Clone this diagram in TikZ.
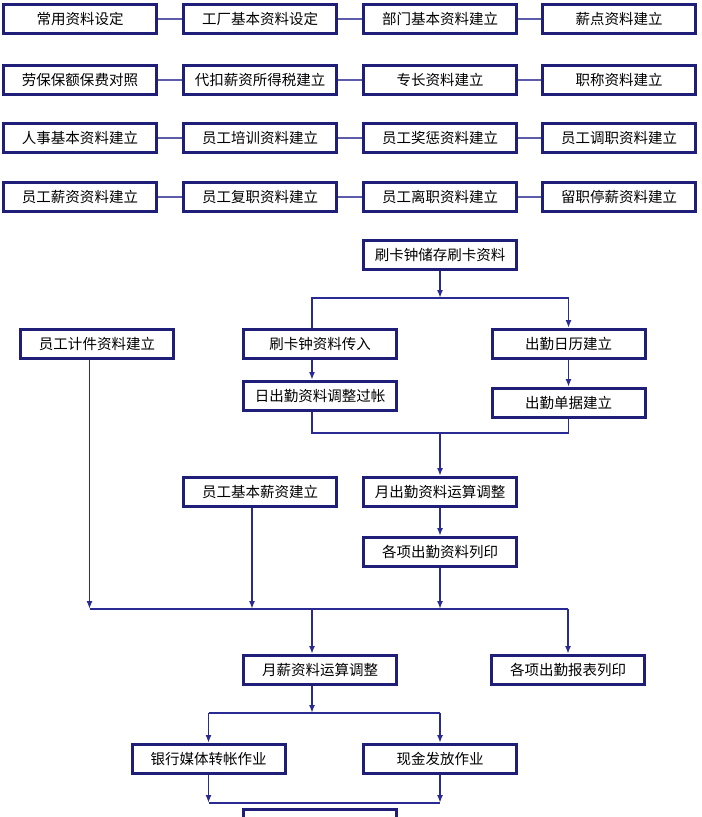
\documentclass[tikz,border=0pt]{standalone}
\usepackage{fontspec}
\newfontfamily\cjk{Noto Sans CJK SC}
\usetikzlibrary{arrows.meta}
\definecolor{boxblue}{HTML}{1F1F7A}
\definecolor{lineblue}{HTML}{2A2A95}
\definecolor{gridblue}{HTML}{5C5CA8}
\tikzset{
  box/.style={shape=rectangle,draw=boxblue,line width=3bp,
    minimum width=153bp,minimum height=29bp,inner sep=0pt,
    font=\cjk\fontsize{14.5bp}{14.5bp}\selectfont},
  link/.style={draw=lineblue,line width=1.6bp},
  >={Latex[length=8bp,width=6bp]}
}
\begin{document}
\begin{tikzpicture}[x=1bp,y=-1bp]
    \useasboundingbox (0,0) rectangle (702,817);
    % basic data
    \node[box] (A1) at (80,19) {常用资料设定};
    \node[box] (A2) at (260,19) {工厂基本资料设定};
    \node[box] (A3) at (440,19) {部门基本资料建立};
    \node[box] (A4) at (619,19) {薪点资料建立};
    \node[box] (B1) at (80,80) {劳保保额保费对照};
    \node[box] (B2) at (260,80) {代扣薪资所得税建立};
    \node[box] (B3) at (440,80) {专长资料建立};
    \node[box] (B4) at (619,80) {职称资料建立};
    \node[box] (C1) at (80,138) {人事基本资料建立};
    \node[box] (C2) at (260,138) {员工培训资料建立};
    \node[box] (C3) at (440,138) {员工奖惩资料建立};
    \node[box] (C4) at (619,138) {员工调职资料建立};
    \node[box] (D1) at (80,197) {员工薪资资料建立};
    \node[box] (D2) at (260,197) {员工复职资料建立};
    \node[box] (D3) at (440,197) {员工离职资料建立};
    \node[box] (D4) at (619,197) {留职停薪资料建立};
\begin{scope}[
              every edge/.style={draw=gridblue,line width=1.8bp}]
    \path (A1) edge (A2) (A2) edge (A3) (A3) edge (A4);
    \path (B1) edge (B2) (B2) edge (B3) (B3) edge (B4);
    \path (C1) edge (C2) (C2) edge (C3) (C3) edge (C4);
    \path (D1) edge (D2) (D2) edge (D3) (D3) edge (D4);
\end{scope}

    % attendance
    \node[box] (E) at (440,255) {刷卡钟储存刷卡资料};
    \node[box] (F) at (97,344) {员工计件资料建立};
    \node[box] (G) at (320,344) {刷卡钟资料传入};
    \node[box] (H) at (568.5,344) {出勤日历建立};
    \node[box] (I) at (320,396) {日出勤资料调整过帐};
    \node[box] (J) at (568.5,403) {出勤单据建立};
    \node[box] (K) at (260,492) {员工基本薪资建立};
    \node[box] (L) at (440,492) {月出勤资料运算调整};
    \node[box] (M) at (440,552) {各项出勤资料列印};
    % payroll
    \node[box] (N) at (320,670) {月薪资料运算调整};
    \node[box] (O) at (568,670) {各项出勤报表列印};
    \node[box] (P) at (208.5,759) {银行媒体转帐作业};
    \node[box] (Q) at (440,759) {现金发放作业};

    \coordinate (s1) at (440,298);
    \coordinate (s2) at (440,433);
    \coordinate (s3) at (440,609);
    \coordinate (s4) at (312,713);
    \coordinate (s5) at (324,803);
    \coordinate (g) at ([xshift=-8bp]G.south);
    \coordinate (i) at ([xshift=-8bp]I.south);
    \coordinate (f) at ([xshift=-7.5bp]F.south);
    \coordinate (k) at ([xshift=-8bp]K.south);

\begin{scope}[
              every edge/.style={link}]
    \path [->] (E) edge (s1);
    \path [->] (g) edge (g |- I.north);
    \path [->] (H) edge (J);
    \path [->] (s2) edge (L);
    \path [->] (L) edge (M);
    \path [->] (f) edge (f |- s3);
    \path [->] (k) edge (k |- s3);
    \path [->] (M) edge (s3);
    \path [->] (s4 |- s3) edge (s4 |- N.north);
    \path [->] (O.north |- s3) edge (O);
    \path [->] (s4 |- N.south) edge (s4);
    \path [->] (P.north |- s4) edge (P);
    \path [->] (Q.north |- s4) edge (Q);
    \path [->] (P) edge (P.south |- s5);
    \path [->] (Q) edge (Q.south |- s5);
\end{scope}
    \draw[link,->] (g |- G.north) |- (s1) -| (H);
    \draw[link] (i) |- (s2) -| (J);
    \draw[link] (f |- s3) -- (O.north |- s3);
    \draw[link] (P.north |- s4) -- (Q.north |- s4);
    \draw[link] (P.south |- s5) -- (Q.south |- s5);

    % cut at the page edge
\begin{scope}
    \clip (0,0) rectangle (702,817);
    \node[box] (R) at (320,824) {};
\end{scope}

\end{tikzpicture}
\end{document}
